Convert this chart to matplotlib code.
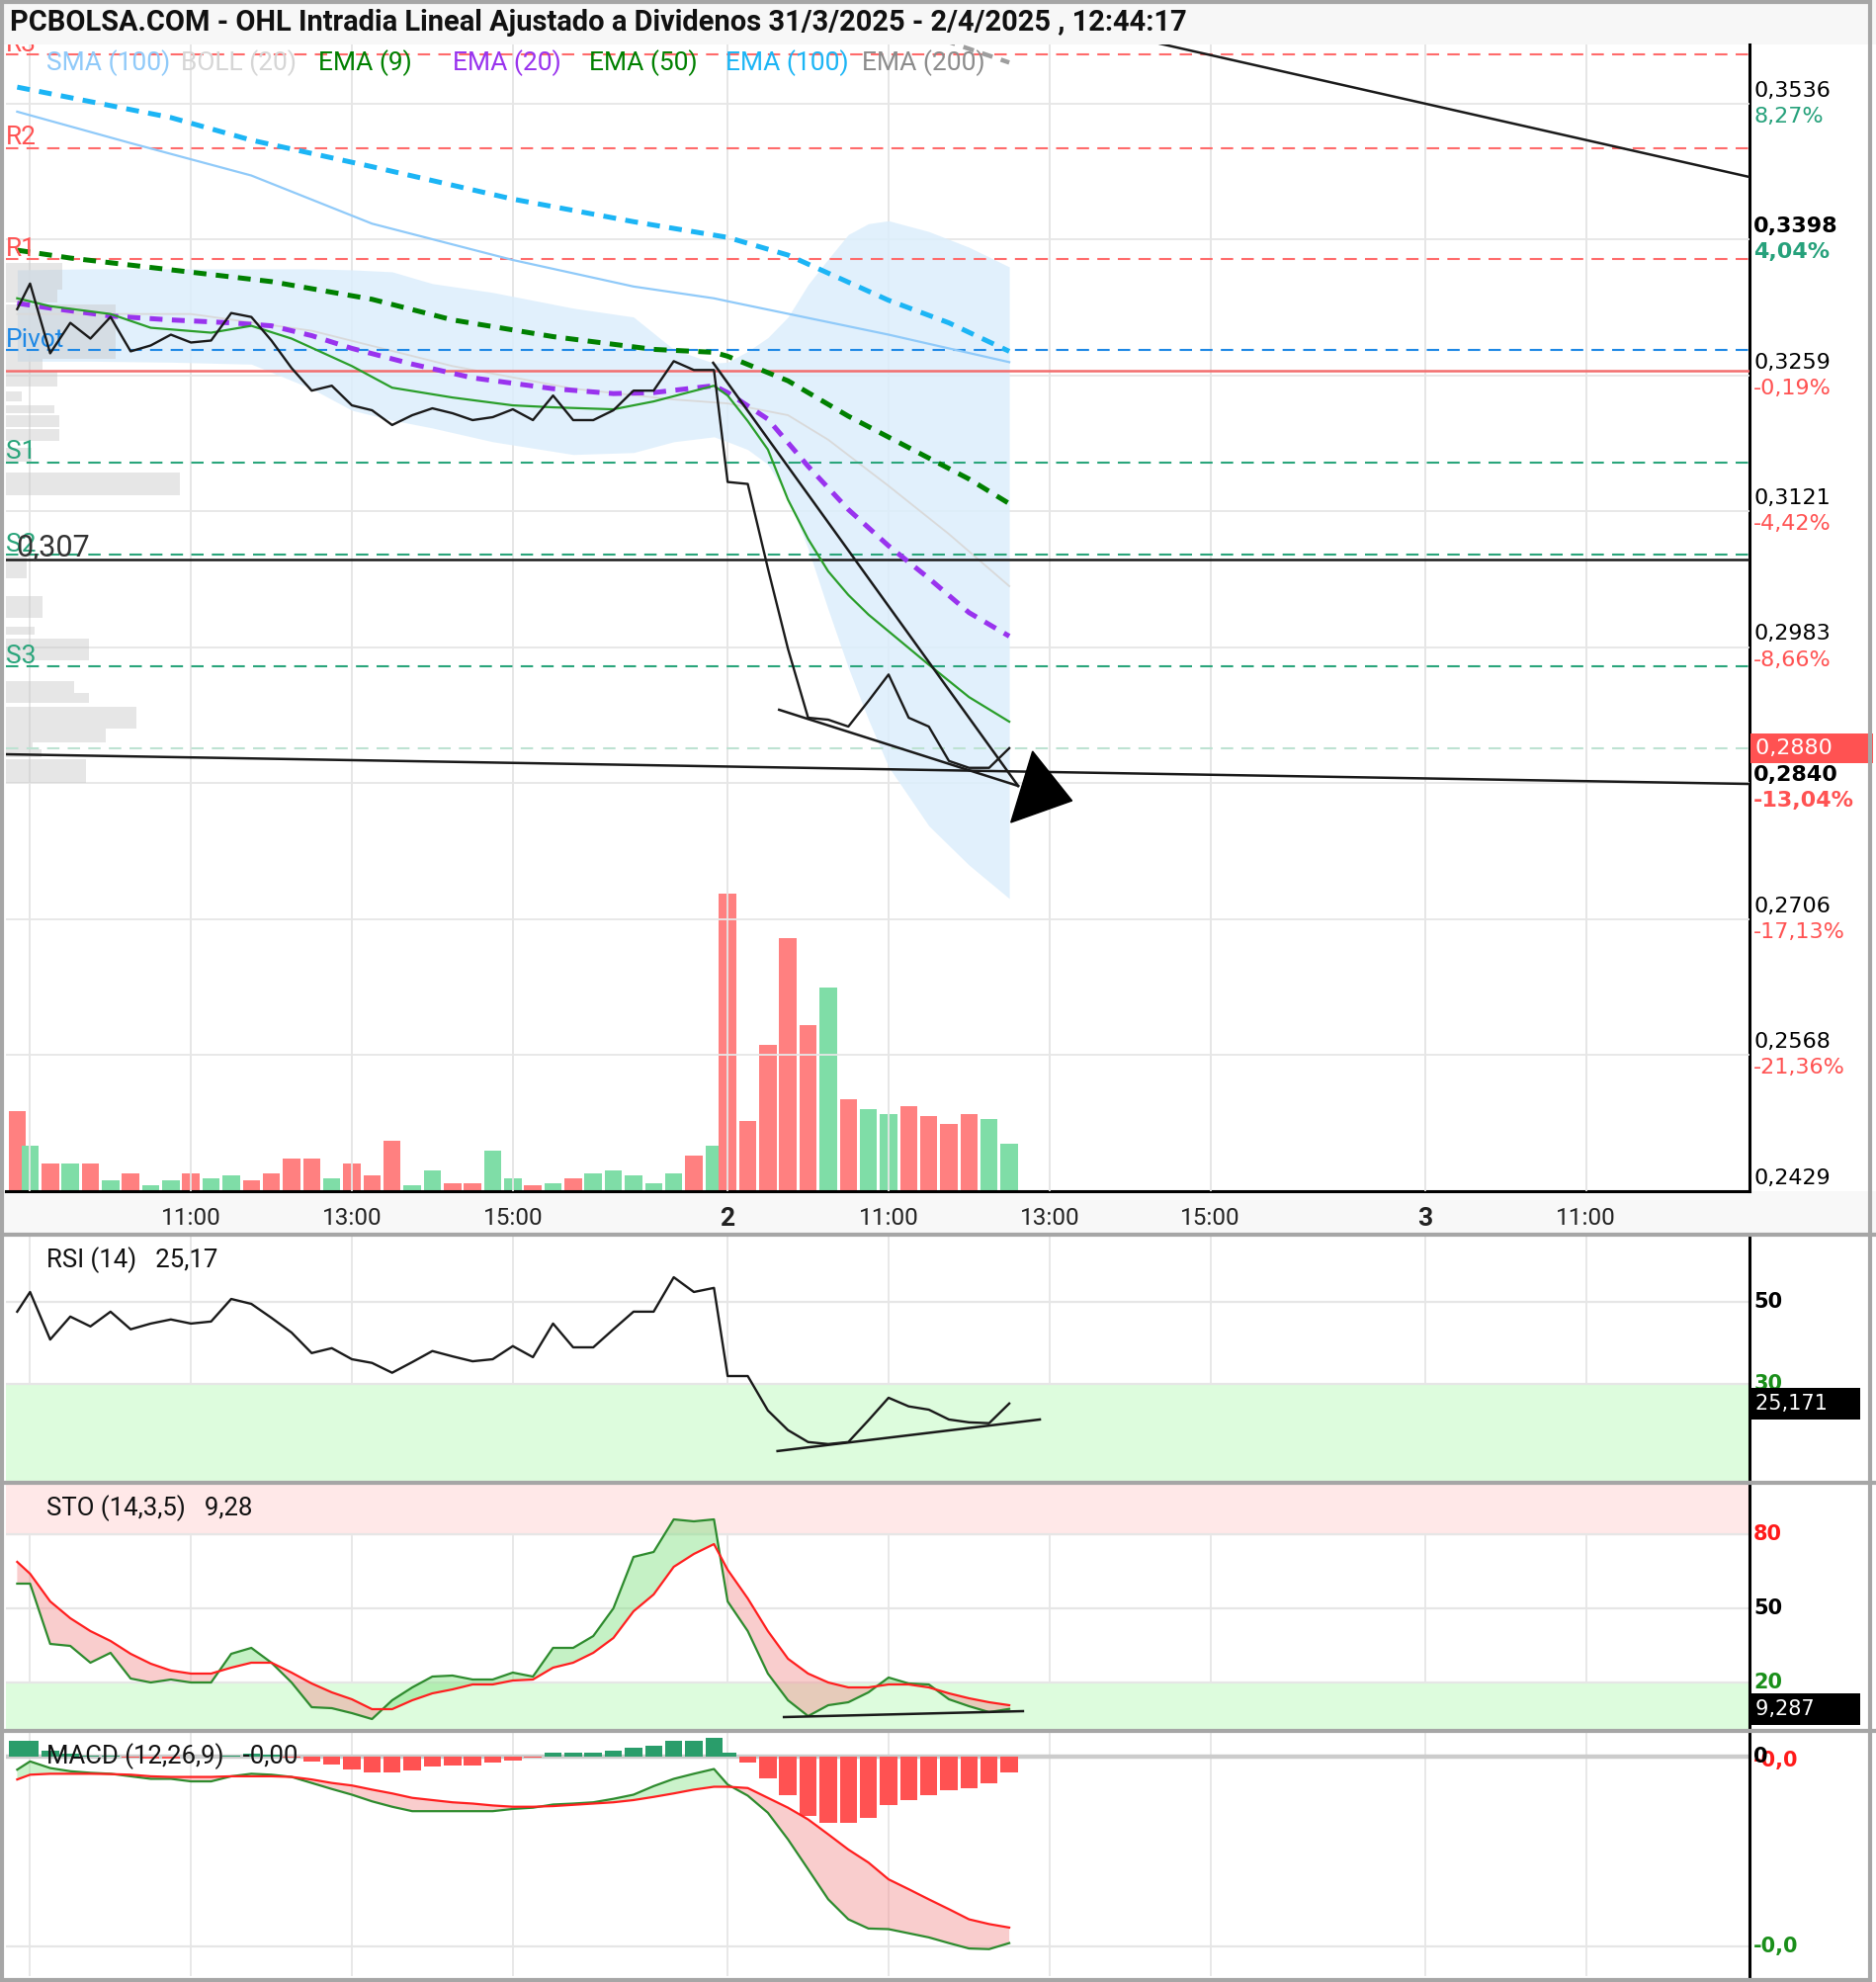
import numpy as np
import matplotlib
matplotlib.use("Agg")
import matplotlib.pyplot as plt
import matplotlib.transforms as mtransforms
from matplotlib.lines import Line2D
from matplotlib.patches import Rectangle, Polygon

plt.rcParams['font.family'] = ['Roboto', 'DejaVu Sans']
NUM = ['DejaVu Sans']

# ------------------------------------------------------------------ datos
TITULO = "PCBOLSA.COM - OHL Intradia Lineal Ajustado a Dividenos 31/3/2025 - 2/4/2025 , 12:44:17"

# eje de tiempo comprimido: horas desde las 9:00 del 1/4; el 2/4 empieza en 8,67
DIA2 = 8.67
t_barras = np.array([-0.16] + [0.25 * k for k in range(35)] + [DIA2 + 0.25 * j for j in range(15)])

cierre = [0.3327, 0.3353, 0.3282, 0.3313, 0.3297, 0.3319, 0.3284, 0.3290, 0.3301, 0.3293,
          0.3295, 0.3323, 0.3319, 0.3295, 0.3267, 0.3244, 0.3249, 0.3229, 0.3224, 0.3209,
          0.3219, 0.3226, 0.3221, 0.3214, 0.3217, 0.3225, 0.3214, 0.3239, 0.3214, 0.3214,
          0.3224, 0.3244, 0.3244, 0.3274, 0.3265, 0.3265,
          0.3151, 0.3149, 0.3063, 0.2981, 0.2911, 0.2909, 0.2902, 0.2928, 0.2955, 0.2911,
          0.2902, 0.2867, 0.2860, 0.2860, 0.2880]

volumen = [81, 46, 28, 28, 28, 11, 18, 6, 11, 18, 13, 16, 11, 18, 33, 33, 13, 28, 16, 51,
           6, 21, 8, 8, 41, 13, 6, 8, 13, 18, 21, 16, 8, 18, 36, 46,
           301, 71, 148, 256, 168, 206, 93, 83, 78, 86, 76, 68, 78, 73, 48]
vol_color = "rgrgrgrggrggrrrrgrrrggrrggrgrgggggrg" + "rrrrrgrggrrrrgg"

rsi = [47.6, 52.4, 40.8, 46.4, 44.0, 47.6, 43.3, 44.7, 45.7, 44.7, 45.2, 50.7, 49.5, 46.1,
       42.5, 37.5, 38.7, 36.0, 35.1, 32.7, 35.3, 38.0, 36.7, 35.5, 36.0, 39.2, 36.5, 44.7,
       38.9, 38.9, 43.3, 47.6, 47.6, 56.0, 52.4, 53.4,
       31.9, 31.9, 23.5, 18.7, 15.8, 15.3, 15.8, 21.1, 26.6, 24.5, 23.7, 21.3, 20.6, 20.4, 25.2]

sto_k = [60, 60, 35.6, 34.8, 28, 32, 21.6, 20, 21.2, 20, 20, 31.6, 34, 28, 20, 10, 9.6, 7.6,
         5.2, 12.8, 18, 22.4, 22.8, 21.2, 21.2, 24, 22.4, 34, 34, 38.8, 50, 70.8, 72.8, 86, 85.2, 86,
         52.8, 40.8, 23.6, 12.8, 6.4, 10.8, 12, 16, 22, 19.6, 19.2, 13.2, 10.4, 8, 9.3]
sto_d = [68.8, 64, 52.8, 46, 40.8, 36.8, 31.6, 27.6, 24.8, 23.6, 23.6, 26, 28, 28, 24, 19.6,
         16, 13.2, 9.2, 9.2, 12.8, 15.6, 17.2, 19.2, 19.2, 20.8, 21.2, 26, 28, 32, 38, 48.8,
         55.6, 66.8, 72, 76,
         65.6, 54, 40.8, 29.6, 23.6, 20, 18, 18, 19.2, 19.2, 18, 15.6, 13.6, 12, 10.8]

# MACD en milesimas
macd = [-0.42, -0.16, -0.37, -0.47, -0.52, -0.55, -0.63, -0.71, -0.71, -0.79, -0.79, -0.63,
        -0.55, -0.58, -0.65, -0.84, -1.03, -1.21, -1.42, -1.59, -1.73, -1.73, -1.73, -1.73,
        -1.73, -1.66, -1.62, -1.52, -1.49, -1.45, -1.34, -1.21, -0.94, -0.71, -0.55, -0.40,
        -0.89, -1.24, -1.78, -2.62, -3.56, -4.51, -5.14, -5.43, -5.45, -5.58, -5.71, -5.89,
        -6.06, -6.08, -5.89]
senal = [-0.73, -0.58, -0.55, -0.55, -0.55, -0.56, -0.58, -0.63, -0.65, -0.65, -0.65, -0.63,
         -0.63, -0.63, -0.65, -0.73, -0.84, -0.92, -1.05, -1.17, -1.31, -1.38, -1.45, -1.49,
         -1.55, -1.59, -1.59, -1.57, -1.53, -1.49, -1.45, -1.38, -1.28, -1.17, -1.05, -0.96,
         -0.96, -1.00, -1.31, -1.62, -1.99, -2.46, -2.94, -3.35, -3.88, -4.19, -4.51, -4.82,
         -5.14, -5.29, -5.40]
histo = [0.50, 0.50, 0.19, 0.08, 0.03, 0.01, -0.05, -0.08, -0.06, -0.02, 0.0, 0.03, 0.08,
         0.05, -0.05, -0.16, -0.26, -0.40, -0.50, -0.52, -0.44, -0.31, -0.29, -0.29, -0.21,
         -0.13, -0.03, 0.13, 0.13, 0.13, 0.19, 0.26, 0.34, 0.50, 0.50, 0.58,
         0.13, -0.21, -0.68, -1.24, -1.87, -2.10, -2.10, -1.94, -1.55, -1.38, -1.24, -1.07,
         -1.00, -0.84, -0.52]

sma100_i = [0, 6, 12, 18, 25, 31, 35, 36, 40, 44, 50]
sma100 = [0.3528, 0.3496, 0.3463, 0.3414, 0.3377, 0.3350, 0.3338, 0.3335, 0.3318, 0.3301, 0.3273]
ema100_i = [0, 8, 12, 18, 25, 31, 36, 39, 44, 47, 50]
ema100 = [0.3553, 0.3522, 0.3499, 0.3472, 0.3439, 0.3416, 0.3400, 0.3382, 0.3336, 0.3313, 0.3284]
ema50_i = [0, 3, 8, 13, 18, 22, 27, 32, 35, 36, 39, 42, 45, 48, 50]
ema50 = [0.3387, 0.3379, 0.3367, 0.3355, 0.3337, 0.3316, 0.3299, 0.3286, 0.3283, 0.3279,
         0.3254, 0.3218, 0.3186, 0.3154, 0.3129]
ema20_i = [0, 2, 5, 8, 11, 13, 15, 17, 20, 23, 27, 30, 32, 35, 36, 38, 40, 42, 44, 46, 48, 50]
ema20 = [0.3333, 0.3328, 0.3320, 0.3316, 0.3313, 0.3310, 0.3300, 0.3287, 0.3271, 0.3257,
         0.3246, 0.3241, 0.3242, 0.3249, 0.3242, 0.3215, 0.3167, 0.3123, 0.3086, 0.3053,
         0.3018, 0.2994]
ema9_i = [0, 2, 5, 7, 10, 12, 14, 17, 19, 22, 25, 27, 30, 32, 35, 36, 37, 38, 39, 40, 41, 42,
          43, 44, 46, 48, 50]
ema9 = [0.3338, 0.3330, 0.3322, 0.3308, 0.3303, 0.3310, 0.3297, 0.3269, 0.3247, 0.3237,
        0.3229, 0.3227, 0.3225, 0.3233, 0.3249, 0.3239, 0.3213, 0.3184, 0.3133, 0.3093,
        0.3060, 0.3036, 0.3016, 0.2999, 0.2965, 0.2932, 0.2907]
ema200_i = [44, 50]
ema200 = [0.3620, 0.3578]
boll_i = [0, 4, 8, 12, 15, 17, 19, 21, 24, 28, 31, 33, 35, 36, 37, 38, 39, 40, 41, 42, 43, 44,
          46, 48, 50]
boll_sup = [0.3367, 0.3368, 0.3368, 0.3368, 0.3368, 0.3367, 0.3365, 0.3353, 0.3344, 0.3328,
            0.3319, 0.3286, 0.3272, 0.3273, 0.3284, 0.3298, 0.3319, 0.3352, 0.3378, 0.3403,
            0.3414, 0.3417, 0.3406, 0.3390, 0.3370]
boll_inf = [0.3274, 0.3274, 0.3273, 0.3271, 0.3246, 0.3224, 0.3214, 0.3206, 0.3192, 0.3179,
            0.3181, 0.3192, 0.3197, 0.3192, 0.3184, 0.3169, 0.3136, 0.3083, 0.3021, 0.2962,
            0.2909, 0.2861, 0.2801, 0.2761, 0.2727]
boll_med_i = [0, 9, 15, 22, 28, 33, 36, 39, 41, 44, 47, 50]
boll_med = [0.3322, 0.3322, 0.3305, 0.3269, 0.3246, 0.3235, 0.3231, 0.3219, 0.3194, 0.3147,
            0.3098, 0.3045]

# perfil de volumen (tramo de precio, volumen relativo)
vp_lo = [0.3347, 0.3334, 0.3276, 0.3265, 0.3248, 0.3233, 0.3221, 0.3207, 0.3193, 0.3172,
         0.3137, 0.3053, 0.3013, 0.2996, 0.2969, 0.2936, 0.2926, 0.2900, 0.2886, 0.2879,
         0.2871, 0.2845]
vp_hi = [0.3374, 0.3347, 0.3332, 0.3276, 0.3264, 0.3243, 0.3229, 0.3219, 0.3205, 0.3186,
         0.3161, 0.3075, 0.3035, 0.3004, 0.2992, 0.2948, 0.2936, 0.2922, 0.2900, 0.2886,
         0.2879, 0.2869]
vp_vol = [57, 52, 111, 37, 52, 16, 49, 54, 54, 26, 176, 21, 37, 29, 84, 69, 84, 132, 101, 27,
          36, 81]

# niveles pivote
niveles = ['R3', 'R2', 'R1', 'Pivot', 'S1', 'S2', 'S3']
niveles_v = [0.3586, 0.3491, 0.3378, 0.3285, 0.3171, 0.3077, 0.2963]
cierre_ant = 0.3264
linea_307 = 0.3072
ultimo = 0.2880

# lineas de tendencia dibujadas (tiempo, precio)
tend_t = [(-0.30, 21.37), (8.49, 12.28), (9.31, 12.28), (12.0, 21.37)]
tend_p = [(0.28738, 0.28436), (0.32723, 0.28416), (0.29191, 0.28416), (0.36351, 0.34615)]
flecha_t = [12.19, 12.46, 12.95]
flecha_p = [0.28044, 0.28768, 0.28265]
rsi_tend_t, rsi_tend_v = [9.29, 12.55], [13.6, 21.3]
sto_tend_t, sto_tend_v = [9.37, 12.34], [6.0, 8.4]

# eje x
ticks_t = [2, 4, 6, DIA2, DIA2 + 2, DIA2 + 4, DIA2 + 6, 2 * DIA2, 2 * DIA2 + 2]
ticks_lbl = ['11:00', '13:00', '15:00', '2', '11:00', '13:00', '15:00', '3', '11:00']
grid_t = [0] + ticks_t

# eje de precios
precio_grid = [0.3536, 0.3398, 0.3259, 0.3121, 0.2983, 0.2845, 0.2706, 0.2568]
etq_v = [0.3536, 0.3398, 0.3259, 0.3121, 0.2983, 0.2840, 0.2706, 0.2568, 0.2429]
etq_precio = ['0,3536', '0,3398', '0,3259', '0,3121', '0,2983', '0,2840', '0,2706', '0,2568', '0,2429']
etq_pct = ['8,27%', '4,04%', '-0,19%', '-4,42%', '-8,66%', '-13,04%', '-17,13%', '-21,36%', '']
etq_negrita = [False, True, False, False, False, True, False, False, False]

# ------------------------------------------------------------------ figura
W, H = 1898, 2005
fig = plt.figure(figsize=(W / 100, H / 100), dpi=100)
fig.patch.set_facecolor('white')


def box(x0, y0, x1, y1):
    return [x0 / W, 1 - y1 / H, (x1 - x0) / W, (y1 - y0) / H]


GRID = '#E6E6E6'
ROJO = '#FF5252'
VERDE_T = '#26A17B'
XL = (-0.30, 21.37)
YL = (0.2429, 0.35964)

# fondos de la cabecera y de la tira del eje x
fig.add_artist(Rectangle((0, 1 - 45 / H), 1, 45 / H, transform=fig.transFigure,
                         fc='#F7F7F7', ec='none', zorder=-5))
fig.add_artist(Rectangle((0, 1 - 1249 / H), 1, 44 / H, transform=fig.transFigure,
                         fc='#F8F8F8', ec='none', zorder=-5))

# capas del panel principal: volumen -> banda -> perfil -> lineas
pos_main = box(6, 45, 1770, 1205)
axv = fig.add_axes(pos_main)
axb = fig.add_axes(pos_main, sharex=axv)
axp = fig.add_axes(pos_main)
ax = fig.add_axes(pos_main, sharex=axv)
for a in (axb, axp, ax):
    a.set_facecolor('none')
axv.set_facecolor('white')

t = t_barras
bw = 0.215

# volumen
cols = ['#FF8080' if c == 'r' else '#7FDDA7' for c in vol_color]
axv.bar(t, volumen, width=bw, color=cols, zorder=2)
axv.set_ylim(0, 1160)
axv.set_xlim(*XL)
for s in ['top', 'left']:
    axv.spines[s].set_visible(False)
for s in ['bottom', 'right']:
    axv.spines[s].set_linewidth(2.2)
    axv.spines[s].set_color('black')
axv.tick_params(left=False, labelleft=False, right=False, bottom=False, pad=8,
                labelsize=17.5, labelcolor='#222')
axv.set_xticks(ticks_t)
axv.set_xticklabels(ticks_lbl)
for lbl in axv.get_xticklabels():
    if lbl.get_text() in ('2', '3'):
        lbl.set_fontweight('bold')
        lbl.set_fontsize(19)
for g in grid_t:
    axv.axvline(g, color=GRID, lw=1.3, zorder=0)

bt = lambda idx: t[np.array(idx)]

# rejilla y banda de Bollinger
axb.set_ylim(*YL)
axb.axis('off')
for g in precio_grid:
    axb.axhline(g, color=GRID, lw=1.3, zorder=0)
for g in grid_t:
    axb.axvline(g, color=GRID, lw=1.3, zorder=0)
axb.fill_between(bt(boll_i), boll_inf, boll_sup, color='#DCEEFC', alpha=0.85, lw=0, zorder=1)

# perfil de volumen
axp.barh([(a + b) / 2 for a, b in zip(vp_lo, vp_hi)], vp_vol,
         height=[b - a for a, b in zip(vp_lo, vp_hi)], left=0, color='#C8C8C8', alpha=0.45, lw=0)
axp.set_xlim(0, 1764)
axp.set_ylim(*YL)
axp.axis('off')

# precio
ax.set_xlim(*XL)
ax.set_ylim(*YL)
ax.axis('off')
ax.plot(bt(boll_med_i), boll_med, color='#D9D9D9', lw=1.3, zorder=2)

# niveles
col_niv = {'R': '#FF6B6B', 'P': '#1E88E5', 'S': '#2AA57B'}
off_lbl = mtransforms.offset_copy(ax.get_yaxis_transform(), fig=fig, x=0, y=2.5, units='points')
for nom, v in zip(niveles, niveles_v):
    c = col_niv[nom[0]]
    ax.axhline(v, color=c, lw=1.5, ls=(0, (6, 4)), zorder=3)
    ax.text(0.0, v, nom, transform=off_lbl, color=c if nom[0] != 'R' else ROJO, fontsize=19,
            va='baseline', ha='left', clip_on=True, zorder=6)
ax.axhline(ultimo, color='#BDE2D2', lw=1.5, ls=(0, (6, 4)), zorder=3)
ax.axhline(cierre_ant, color='#F26D6D', lw=1.8, zorder=3)
ax.axhline(linea_307, color='#1a1a1a', lw=1.8, zorder=3)
ax.text(10 / 1764, linea_307, '0,307', transform=off_lbl, color='#333333', fontsize=22,
        va='baseline', ha='left', zorder=6)

# medias
ax.plot(bt(sma100_i), sma100, color='#90CAF9', lw=1.6, zorder=4)
ax.plot(bt(ema200_i), ema200, color='#9E9E9E', lw=3.2, ls=(0, (2.5, 2)), zorder=4)
ax.plot(bt(ema100_i), ema100, color='#1CB5F5', lw=3.6, ls=(0, (2.6, 1.9)), zorder=4)
ax.plot(bt(ema50_i), ema50, color='#008000', lw=3.6, ls=(0, (2.6, 1.9)), zorder=4)
ax.plot(bt(ema20_i), ema20, color='#9933EE', lw=3.6, ls=(0, (2.6, 1.9)), zorder=4)
ax.plot(bt(ema9_i), ema9, color='#2A9E2A', lw=1.6, zorder=5)

# precio y tendencias
ax.plot(t, cierre, color='#1a1a1a', lw=1.7, zorder=7)
for tt, pp in zip(tend_t, tend_p):
    ax.plot(tt, pp, color='#1a1a1a', lw=1.8, zorder=7)
ax.add_patch(Polygon(list(zip(flecha_t, flecha_p)), closed=True, fc='black', ec='black', zorder=8))

# etiquetas del eje de precios
for v, tp, tc, b in zip(etq_v, etq_precio, etq_pct, etq_negrita):
    w = 'bold' if b else 'normal'
    ax.annotate(tp, xy=(1, v), xycoords=ax.get_yaxis_transform(), xytext=(3, 9.4),
                textcoords='offset points', va='center', ha='left', fontsize=16,
                family=NUM, fontweight=w, color='black', annotation_clip=False)
    if tc:
        ax.annotate(tc, xy=(1, v), xycoords=ax.get_yaxis_transform(), xytext=(3, -9.4),
                    textcoords='offset points', va='center', ha='left', fontsize=16,
                    family=NUM, fontweight=w, color=VERDE_T if not tc.startswith('-') else ROJO,
                    annotation_clip=False)
ax.annotate('0,2880     ', xy=(1, ultimo), xycoords=ax.get_yaxis_transform(), xytext=(4.5, 0),
            textcoords='offset points', va='center', ha='left', fontsize=16, family=NUM,
            color='white', annotation_clip=False, zorder=10,
            bbox=dict(boxstyle='square,pad=0.22', fc=ROJO, ec='none'))

# leyenda
leyenda = ['SMA (100)', 'BOLL (20)', 'EMA (9)', 'EMA (20)', 'EMA (50)', 'EMA (100)', 'EMA (200)']
ley_col = ['#90CAF9', '#D6D6D6', '#008000', '#9933EE', '#008000', '#1CB5F5', '#8C8C8C']
ley_x = [47, 183, 322, 458, 596, 734, 872]
for s, c, x in zip(leyenda, ley_col, ley_x):
    fig.text(x / W, 1 - 64 / H, s, color=c, fontsize=19, va='center', ha='left')

# titulo
tit = fig.text(10 / W, 1 - 23 / H, TITULO, fontsize=17, fontweight='bold', va='center',
               ha='left', color='#111111')
r = fig.canvas.get_renderer()
tit.set_fontsize(17 * 1192 / tit.get_window_extent(r).width)


# ------------------------------------------------------------------ paneles inferiores
def panel(y0, y1, ylim):
    a = fig.add_axes(box(6, y0, 1770, y1), sharex=axv)
    a.set_ylim(*ylim)
    for s in ['top', 'left', 'bottom']:
        a.spines[s].set_visible(False)
    a.spines['right'].set_linewidth(2.2)
    a.spines['right'].set_color('black')
    a.tick_params(left=False, labelleft=False, bottom=False, labelbottom=False, right=False)
    for g in grid_t:
        a.axvline(g, color=GRID, lw=1.3, zorder=0)
    return a


def etq_der(a, v, s, color='black', dx=3, size=15, weight='bold'):
    a.annotate(s, xy=(1, v), xycoords=a.get_yaxis_transform(), xytext=(dx, 0),
               textcoords='offset points', va='center', ha='left', fontsize=size,
               family=NUM, fontweight=weight, color=color, annotation_clip=False)


def caja_der(a, v, s):
    a.annotate(s, xy=(1, v), xycoords=a.get_yaxis_transform(), xytext=(4.5, 0),
               textcoords='offset points', va='center', ha='left', fontsize=15, family=NUM,
               color='white', annotation_clip=False, zorder=10,
               bbox=dict(boxstyle='square,pad=0.3', fc='black', ec='none'))


# RSI
a1 = panel(1251, 1499, (6.1, 65.9))
a1.axhspan(0, 30, color='#DDFCDD', zorder=0)
a1.axhline(50, color=GRID, lw=1.6, zorder=1)
a1.axhline(30, color=GRID, lw=1.6, zorder=1)
a1.plot(t, rsi, color='#1a1a1a', lw=1.7, zorder=3)
a1.plot(rsi_tend_t, rsi_tend_v, color='#1a1a1a', lw=1.8, zorder=3)
etq_der(a1, 50, '50')
etq_der(a1, 30, '30', color='#1A8F1A')
caja_der(a1, rsi[-1], '25,171    ')
fig.text(47 / W, 1 - 1275 / H, 'RSI (14)   25,17', fontsize=18.5, va='center', color='#111')

# estocastico
a2 = panel(1502, 1749, (1.2, 100))
a2.axhspan(80, 100, color='#FFE8E8', zorder=0)
a2.axhspan(0, 20, color='#DDFCDD', zorder=0)
for g in (80, 50, 20):
    a2.axhline(g, color=GRID, lw=1.6, zorder=1)
k = np.array(sto_k)
d = np.array(sto_d)
a2.fill_between(t, k, d, where=k >= d, interpolate=True, color='#7FE07F', alpha=0.45, lw=0, zorder=2)
a2.fill_between(t, k, d, where=k < d, interpolate=True, color='#F29090', alpha=0.45, lw=0, zorder=2)
a2.plot(t, k, color='#2E8B2E', lw=1.6, zorder=3)
a2.plot(t, d, color='#FF1F1F', lw=1.6, zorder=3)
a2.plot(sto_tend_t, sto_tend_v, color='#1a1a1a', lw=1.8, zorder=4)
etq_der(a2, 80, '80', color='#FF1A1A')
etq_der(a2, 50, '50')
etq_der(a2, 20, '20', color='#1A8F1A')
caja_der(a2, sto_k[-1], '9,287      ')
fig.text(47 / W, 1 - 1526 / H, 'STO (14,3,5)   9,28', fontsize=18.5, va='center', color='#111')

# MACD
a3 = panel(1752, 1999, (-6.93, 0.77))
a3.axhline(-6, color=GRID, lw=1.6, zorder=1)
a3.axhline(0, color='#CCCCCC', lw=3.2, zorder=1)
hcol = ['#2A9D6B' if h >= 0 else ROJO for h in histo]
a3.bar(t, histo, width=bw, color=hcol, zorder=2)
m = np.array(macd)
s_ = np.array(senal)
a3.fill_between(t, m, s_, where=m >= s_, interpolate=True, color='#7FE07F', alpha=0.4, lw=0, zorder=3)
a3.fill_between(t, m, s_, where=m < s_, interpolate=True, color='#F29090', alpha=0.45, lw=0, zorder=3)
a3.plot(t, m, color='#2E8B2E', lw=1.6, zorder=4)
a3.plot(t, s_, color='#FF1F1F', lw=1.6, zorder=4)
etq_der(a3, -0.12, '-0,0', color='#FF1A1A')
etq_der(a3, 0, '0')
etq_der(a3, -6, '-0,0', color='#1A8F1A')
fig.text(47 / W, 1 - 1777 / H, 'MACD (12,26,9)   -0,00', fontsize=18.5, va='center', color='#111')

# separadores y marco
for y in (1249, 1500, 1751):
    fig.add_artist(Line2D([0, 1], [1 - y / H] * 2, transform=fig.transFigure, color='#A6A6A6', lw=3))
fig.add_artist(Rectangle((0.001, 0.001), 0.996, 0.998, transform=fig.transFigure, fill=False,
                         ec='#A6A6A6', lw=3))

fig.savefig('out.png', dpi=100)
